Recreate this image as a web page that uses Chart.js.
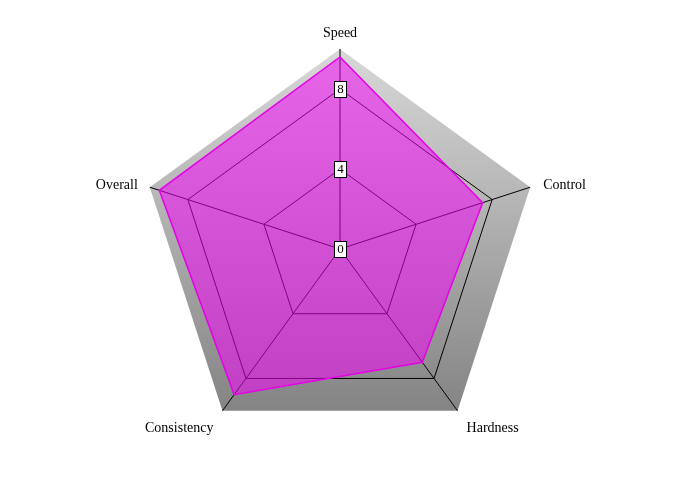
<!DOCTYPE html>
<html>
<head>
<meta charset="utf-8">
<script src="https://cdn.jsdelivr.net/npm/chart.js@4.4.1/dist/chart.umd.min.js"></script>
<style>
  html, body { margin:0; padding:0; background:#fff; }
  #wrap { width:680px; height:500px; }
</style>
</head>
<body>
<div id="wrap"><canvas id="chart-radar"></canvas></div>
<script>
// ─── Datos ─────────────────────────────────────────────
const categorias = ['Speed', 'Control', 'Hardness', 'Consistency', 'Overall'];
const valores = [9.6, 7.5, 7.0, 9.0, 9.5];
const tickLabels = [0, 4, 8];
const escalaMax = 10;

const fuenteSerif = '"Liberation Serif", "Times New Roman", serif';

// Fondo gris del pentágono (degradado vertical) antes de la rejilla
const fondoPentagono = {
  id: 'fondoPentagono',
  beforeDraw(chart) {
    const s = chart.scales.r;
    const ctx = chart.ctx;
    const n = categorias.length;
    const r = s.getDistanceFromCenterForValue(escalaMax);
    const g = ctx.createLinearGradient(0, s.yCenter - r, 0, s.yCenter + r * 0.81);
    g.addColorStop(0, '#d8d8d8');
    g.addColorStop(1, '#848484');
    ctx.save();
    ctx.beginPath();
    for (let i = 0; i < n; i++) {
      const p = s.getPointPositionForValue(i, escalaMax);
      if (i === 0) ctx.moveTo(p.x, p.y); else ctx.lineTo(p.x, p.y);
    }
    ctx.closePath();
    ctx.fillStyle = g;
    ctx.fill();
    ctx.restore();
  }
};

// Etiquetas de la escala (caja blanca con borde) y nombres de los ejes
const etiquetas = {
  id: 'etiquetas',
  afterDatasetsDraw(chart) {
    const s = chart.scales.r;
    const ctx = chart.ctx;
    ctx.save();
    ctx.font = '13px ' + fuenteSerif;
    ctx.textAlign = 'center';
    ctx.textBaseline = 'middle';
    tickLabels.forEach(v => {
      const y = s.yCenter - s.getDistanceFromCenterForValue(v);
      const txt = String(v);
      const w = Math.round(ctx.measureText(txt).width + 5);
      const h = 16;
      const x0 = Math.round(s.xCenter - w / 2) + 0.5;
      const y0 = Math.round(y - h / 2) + 0.5;
      ctx.fillStyle = '#fff';
      ctx.fillRect(x0, y0, w, h);
      ctx.strokeStyle = '#000';
      ctx.lineWidth = 1;
      ctx.strokeRect(x0, y0, w, h);
      ctx.fillStyle = '#000';
      ctx.fillText(txt, x0 + w / 2, y0 + h / 2 + 0.5);
    });

    // nombres de los ejes junto a cada vértice
    ctx.font = '14px ' + fuenteSerif;
    categorias.forEach((nombre, i) => {
      const p = s.getPointPositionForValue(i, escalaMax);
      const dx = p.x - s.xCenter;
      const arriba = p.y < s.yCenter - 1;
      let x = p.x, y = p.y;
      if (Math.abs(dx) < 1) { ctx.textAlign = 'center'; y -= 16; }
      else if (arriba) { ctx.textAlign = dx > 0 ? 'left' : 'right'; x += dx > 0 ? 13 : -12; y -= 2; }
      else { ctx.textAlign = dx > 0 ? 'left' : 'right'; x += dx > 0 ? 9 : -9; y += 18; }
      ctx.fillStyle = '#000';
      ctx.fillText(nombre, x, y);
    });
    ctx.restore();
  }
};

new Chart(document.getElementById('chart-radar'), {
  type: 'radar',
  data: {
    labels: categorias,
    datasets: [{
      label: 'Rating',
      data: valores,
      borderColor: '#e600e6',
      backgroundColor: 'rgba(245, 0, 250, 0.53)',
      borderWidth: 1.5,
      pointRadius: 0,
      fill: true
    }]
  },
  options: {
    responsive: true,
    maintainAspectRatio: false,
    animation: false,
    layout: { padding: { top: 49, bottom: 51 } },
    plugins: { legend: { display: false }, tooltip: { enabled: false } },
    scales: {
      r: {
        min: 0,
        max: escalaMax,
        ticks: { stepSize: 4, display: false },
        grid: { color: c => c.tick && c.tick.value === escalaMax ? 'rgba(0,0,0,0)' : '#000', lineWidth: 1 },
        angleLines: { color: '#000', lineWidth: 1 },
        pointLabels: { display: false }
      }
    }
  },
  plugins: [fondoPentagono, etiquetas]
});
</script>
</body>
</html>
